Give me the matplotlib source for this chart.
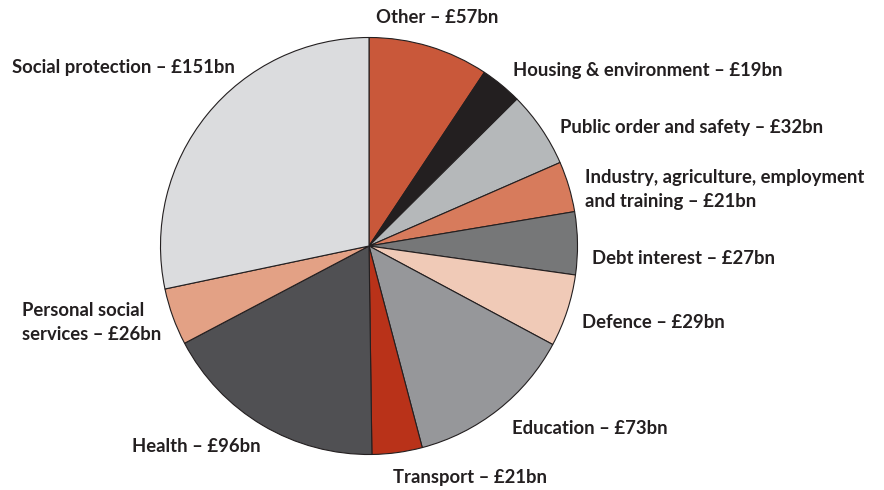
import matplotlib
matplotlib.use('Agg')
import matplotlib.pyplot as plt

# spending by function, £bn (clockwise from top)
categories = ['Other', 'Housing & environment', 'Public order and safety',
              'Industry, agriculture, employment\nand training', 'Debt interest',
              'Defence', 'Education', 'Transport', 'Health',
              'Personal social\nservices', 'Social protection']
values = [57, 19, 32, 21, 27, 29, 73, 21, 96, 26, 151]
# wedge sizes as drawn in the original (degrees), slightly off the labelled values
wedge_deg = [33.6, 11.6, 21.2, 14.1, 17.5, 20.2, 47.0, 14.0, 63.0, 15.9, 101.9]
colours = ['#C9583A', '#231F20', '#B5B8BA', '#D77B5C', '#767778', '#F0CAB7',
           '#96979A', '#B93219', '#505053', '#E3A185', '#DBDCDE']

# label anchor positions in pixels (left edge, vertical centre) of the 884x490 image
label_px = [(376, 18), (513, 71), (560, 128), (585, 189), (592, 259),
            (582, 323), (512, 429), (393, 477), (132, 447), (22, 323), (12, 68)]

cx, cy, r = 369, 246, 208.5
W, H = 884, 490

plt.rcParams['font.family'] = ['Lato', 'DejaVu Sans']

fig = plt.figure(figsize=(W / 100, H / 100), dpi=100)
ax = fig.add_axes([0, 0, 1, 1])
ax.pie(wedge_deg, colors=colours, startangle=90, counterclock=False, radius=1,
       wedgeprops=dict(edgecolor='#231F20', linewidth=0.8))
ax.set_xlim(-cx / r, (W - cx) / r)
ax.set_ylim(-(H - cy) / r, cy / r)
ax.set_aspect('auto')
ax.axis('off')

for name, v, (px, py) in zip(categories, values, label_px):
    ax.text((px - cx) / r, (cy - py) / r, f'{name} \u2013 £{v}bn',
            ha='left', va='center', fontsize=13.3, fontweight='bold',
            color='#231F20', linespacing=1.5)

fig.savefig('out.png', dpi=100)
